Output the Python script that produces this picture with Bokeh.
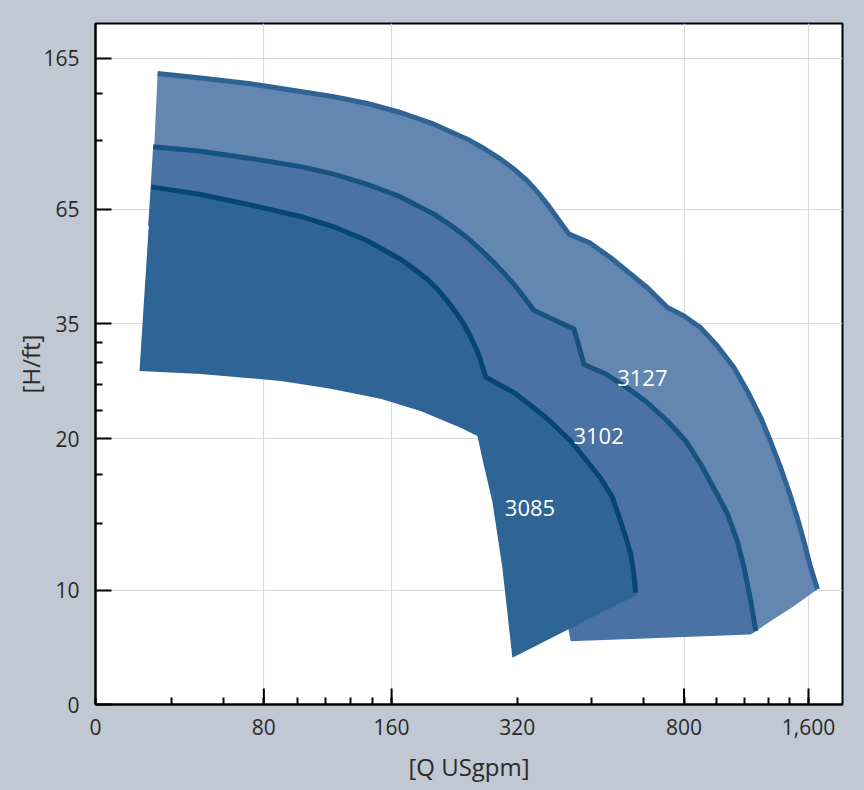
import numpy as np
from bokeh.plotting import figure
from bokeh.models import Range1d, FixedTicker, ColumnDataSource
from bokeh.core.properties import value
from bokeh.embed import file_html
from bokeh.resources import INLINE

# ---------------- axis definition (custom, piecewise-log scale) ----------------
X_TICKS = [0, 80, 160, 320, 800, 1600]
X_TICK_POS = [0.0, 168.3, 296.0, 421.7, 588.3, 712.7]
X_LABELS = ["0", "80", "160", "320", "800", "1,600"]
X_LONG = [80, 160, 800, 1600]          # long ticks + grid lines
X_MINOR = [36, 61, 96, 112, 128, 144, 480, 640, 960, 1120, 1280, 1440]

Y_TICKS = [0, 10, 20, 35, 65, 165]
Y_TICK_POS = [0.0, 114.0, 265.6, 380.6, 495.0, 646.0]
Y_LABELS = ["0", "10", "20", "35", "65", "165"]
Y_GRID = [10, 20, 35, 65, 165]
Y_MINOR = [133, 99, 32, 29, 26, 23, 17, 13.6]

X_END = 746.7
Y_END = 680.6

# ---------------- data: Q [USgpm], H [ft] ----------------
# 3127: max impeller curve
Q127_MAX = [29.5, 50, 73.7, 97.6, 117, 140.2, 168.1, 202, 242.9, 266.2, 291.8, 314.1,
            338.1, 357.2, 377.4, 425, 476.3, 534.6, 654.1, 730.2, 800, 878, 963.6, 1057,
            1139, 1226.6, 1297, 1371, 1437.7, 1505, 1563, 1620.6, 1682]
H127_MAX = [150, 145.9, 140.8, 134.3, 130.0, 124.7, 118.0, 109.8, 100.1, 94.5, 88.5, 83.2,
            77.4, 72.3, 67.0, 56.8, 54.2, 50.0, 42.5, 38.2, 36.5, 34.3, 31.4, 28.25,
            25.2, 22.15, 19.7, 17.5, 15.64, 13.9, 12.44, 11.09, 10.05]
# 3127: end of range and minimum impeller (lower boundary)
Q127_MIN = [1474, 1297, 1193, 1128, 981, 786, 565, 406, 261, 128, 74, 27.6]
H127_MIN = [8.62, 7.31, 6.43, 7.31, 11.43, 17.25, 21.8, 26.5, 39.6, 64.3, 72.8, 87.6]

# 3102
Q102_MAX = [27.4, 50, 73.7, 97.6, 117, 140.2, 168.1, 202, 221.5, 242.9, 261.4, 281.3,
            297.2, 314.1, 331.8, 350.6, 436.9, 461.6, 520.1, 586, 648, 730.2, 807.6, 878,
            954.6, 1018.9, 1077, 1117.6, 1160, 1193]
H102_MAX = [95.5, 92.9, 88.9, 84.5, 80.7, 75.8, 70.1, 63.3, 59.6, 55.7, 52.2, 48.7,
            46.0, 43.3, 40.4, 37.6, 34.1, 28.7, 27.4, 25.6, 24.0, 21.8, 19.8, 17.8,
            15.7, 14.2, 12.5, 11.1, 9.06, 6.43]
Q102_MIN = [1160, 429, 395, 344, 276, 234, 168, 98, 50, 25]
H102_MIN = [6.14, 5.55, 11.4, 18.9, 24.0, 29.2, 39.6, 49.1, 54.8, 59.4]

# 3085
Q085_MAX = [26.5, 50, 73.7, 97.6, 117, 140.2, 168.1, 180.9, 194.8, 205.9, 217.5, 227.7,
            238.4, 247.3, 256.7, 262.8, 268.7, 317, 373.9, 429, 506, 539.6, 564.8, 580.6,
            596.8, 606.7, 613.3]
H085_MAX = [74.6, 71.2, 66.7, 62.5, 59.1, 54.8, 49.6, 47.1, 44.5, 42.2, 39.6, 37.3,
            34.9, 32.8, 30.6, 28.8, 27.0, 24.9, 22.2, 19.8, 16.7, 15.3, 13.7, 12.76,
            11.8, 10.82, 9.79]
Q085_MIN = [619, 311.3, 294.6, 278.8, 265.7, 256.7, 234.1, 187.7, 150.7, 114.9, 97.6,
            87.6, 50, 20.9]
H085_MIN = [9.65, 4.09, 11.09, 15.0, 17.8, 20.26, 21.1, 22.9, 24.3, 25.5, 26.1, 26.5,
            27.4, 27.8]

MODELS = ["3127", "3102", "3085"]
LABEL_Q = [636, 500, 343]
LABEL_H = [26.9, 20.26, 14.6]

# ---------------- styles ----------------
BG = "#c0c8d3"
FILL = {"3127": "#6487b1", "3102": "#4a72a4", "3085": "#2f6596"}
LINE = {"3127": "#2e6394", "3102": "#175381", "3085": "#064674"}
FONT = "Open Sans"
TXT = "#2a2a2a"


def to_axis(vals, ticks, pos):
    v = np.asarray(vals, dtype=float)
    out = np.empty_like(v)
    for k, x in enumerate(v):
        i = int(np.searchsorted(ticks, x, side="right")) - 1
        i = min(max(i, 0), len(ticks) - 2)
        a, b = ticks[i], ticks[i + 1]
        if a <= 0:
            f = (x - a) / (b - a)
        else:
            f = np.log(x / a) / np.log(b / a)
        out[k] = pos[i] + f * (pos[i + 1] - pos[i])
    return out


def tx(vals):
    return [round(float(t), 3) for t in to_axis(vals, X_TICKS, X_TICK_POS)]


def ty(vals):
    return [round(float(t), 3) for t in to_axis(vals, Y_TICKS, Y_TICK_POS)]


p = figure(frame_width=747, frame_height=681,
           x_range=Range1d(0, X_END), y_range=Range1d(0, Y_END),
           output_backend="svg", toolbar_location=None,
           min_border_left=95, min_border_right=14, min_border_top=23, min_border_bottom=78)

p.background_fill_color = "white"
p.border_fill_color = BG
p.outline_line_color = "black"
p.outline_line_width = 2

try:
    from bokeh.models import GlobalInlineStyleSheet
    p.stylesheets = [GlobalInlineStyleSheet(css="html, body { background-color: %s; }" % BG)]
except Exception:
    pass

# ---- x axis ----
xa = p.xaxis[0]
x_major = tx(X_TICKS)
xa.ticker = FixedTicker(ticks=x_major, minor_ticks=tx(X_MINOR))
xa.major_label_overrides = {pos: lab for pos, lab in zip(x_major, X_LABELS)}
xa.axis_label = "[Q USgpm]"

# ---- y axis ----
ya = p.yaxis[0]
y_major = ty(Y_TICKS)
ya.ticker = FixedTicker(ticks=y_major, minor_ticks=ty(Y_MINOR))
ya.major_label_overrides = {pos: lab for pos, lab in zip(y_major, Y_LABELS)}
ya.axis_label = "[H/ft]"

for ax in (xa, ya):
    ax.axis_line_color = "black"
    ax.axis_line_width = 2
    ax.major_tick_in = 16
    ax.major_tick_out = 0
    ax.minor_tick_in = 7
    ax.minor_tick_out = 0
    ax.major_tick_line_color = "black"
    ax.major_tick_line_width = 2
    ax.minor_tick_line_color = "black"
    ax.minor_tick_line_width = 2
    ax.major_label_text_font = FONT
    ax.major_label_text_font_size = "21px"
    ax.major_label_text_color = TXT
    ax.axis_label_text_font = FONT
    ax.axis_label_text_font_size = "24px"
    ax.axis_label_text_font_style = "normal"
    ax.axis_label_text_color = TXT
xa.major_tick_in = 7          # 320 keeps a short tick; long ones drawn below
xa.major_label_standoff = 14
ya.major_label_standoff = 16
xa.axis_label_standoff = 12
ya.axis_label_standoff = -7

# ---- grid ----
p.xgrid.ticker = FixedTicker(ticks=tx(X_LONG))
p.ygrid.ticker = FixedTicker(ticks=ty(Y_GRID))
for g in (p.xgrid[0], p.ygrid[0]):
    g.grid_line_color = "#d9d9d9"
    g.grid_line_width = 1.2

# long x ticks (16 px) at the gridded values
xl = tx(X_LONG)
p.segment(x0=xl, x1=xl, y0=[0] * len(xl), y1=[16] * len(xl),
          line_color="black", line_width=2)

# ---- regions ----
regions = {
    "3127": (Q127_MAX, H127_MAX, Q127_MIN, H127_MIN),
    "3102": (Q102_MAX, H102_MAX, Q102_MIN, H102_MIN),
    "3085": (Q085_MAX, H085_MAX, Q085_MIN, H085_MIN),
}
for m in MODELS:
    qmax, hmax, qmin, hmin = regions[m]
    px = tx(list(qmax) + list(qmin))
    py = ty(list(hmax) + list(hmin))
    p.patch(px, py, fill_color=FILL[m], line_color=None)
    p.line(tx(qmax), ty(hmax), line_color=LINE[m], line_width=5, line_join="round")

src = ColumnDataSource(dict(x=tx(LABEL_Q), y=ty(LABEL_H), t=MODELS))
p.text(x="x", y="y", text="t", source=src, text_color="white", text_font=value(FONT),
       text_font_size="22px", text_align="center", text_baseline="middle")

open("out.html", "w").write(file_html(p, INLINE))
